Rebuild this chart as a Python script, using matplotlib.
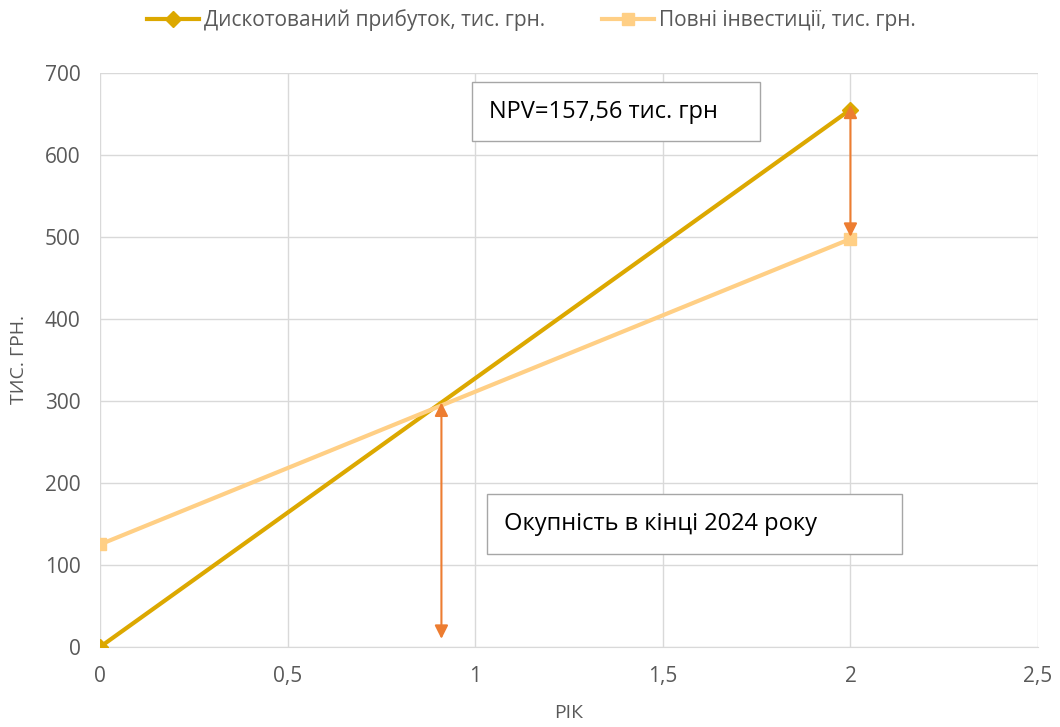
import matplotlib.pyplot as plt

# data
years = [0, 2]
discounted_profit = [0, 655.0]
investments = [125.0, 497.4]

# annotation arrows (x, y_from, y_to)
payback_arrow = [0.91, 298, 10]
npv_arrow = [2.0, 661, 500]

x_ticks = [0, 0.5, 1, 1.5, 2, 2.5]
x_labels = ["0", "0,5", "1", "1,5", "2", "2,5"]
y_ticks = [0, 100, 200, 300, 400, 500, 600, 700]

plt.rcParams['font.family'] = ['Open Sans', 'DejaVu Sans']
grey = '#595959'

fig = plt.figure(figsize=(10.6, 7.27), dpi=100)
ax = fig.add_axes([0.0943, 0.110, 0.885, 0.79])

ax.plot(years, discounted_profit, color='#DCA800', lw=3, marker='D', ms=8,
        label='Дискотований прибуток, тис. грн.', zorder=3)
ax.plot(years, investments, color='#FFCF85', lw=3, marker='s', ms=9,
        label='Повні інвестиції, тис. грн.', zorder=3)

arrow_props = dict(arrowstyle='<|-|>', color='#ED7D31', lw=1.5, mutation_scale=20,
                   shrinkA=0, shrinkB=0)
ax.annotate('', xy=(payback_arrow[0], payback_arrow[2]),
            xytext=(payback_arrow[0], payback_arrow[1]), arrowprops=arrow_props, zorder=4)
ax.annotate('', xy=(npv_arrow[0], npv_arrow[2]),
            xytext=(npv_arrow[0], npv_arrow[1]), arrowprops=arrow_props, zorder=4)

box = dict(boxstyle='square,pad=0.75', fc='white', ec='#A6A6A6', lw=1)
ax.text(0.415, 0.932, 'NPV=157,56 тис. грн    ', transform=ax.transAxes, fontsize=17,
        color='black', ha='left', va='center', bbox=box, zorder=5)
ax.text(0.431, 0.214, 'Окупність в кінці 2024 року           ', transform=ax.transAxes, fontsize=17,
        color='black', ha='left', va='center', bbox=box, zorder=5)

ax.set_xlim(0, 2.5)
ax.set_ylim(0, 700)
ax.set_xticks(x_ticks)
ax.set_xticklabels(x_labels)
ax.set_yticks(y_ticks)
ax.tick_params(length=0, colors=grey, labelsize=15, pad=14)
ax.grid(color='#D9D9D9', lw=1)
ax.set_axisbelow(True)
for s in ['top', 'right', 'left']:
    ax.spines[s].set_visible(False)
ax.spines['bottom'].set_color('#D9D9D9')

ax.set_xlabel('РІК', color=grey, fontsize=14, labelpad=12)
ax.set_ylabel('ТИС. ГРН.', color=grey, fontsize=14, labelpad=12)

ax.legend(loc='lower center', bbox_to_anchor=(0.46, 1.04), ncol=2, frameon=False,
          fontsize=15, labelcolor=grey, handlelength=2.5, columnspacing=2.7, handletextpad=0.25)

fig.savefig('out.png', dpi=100)
